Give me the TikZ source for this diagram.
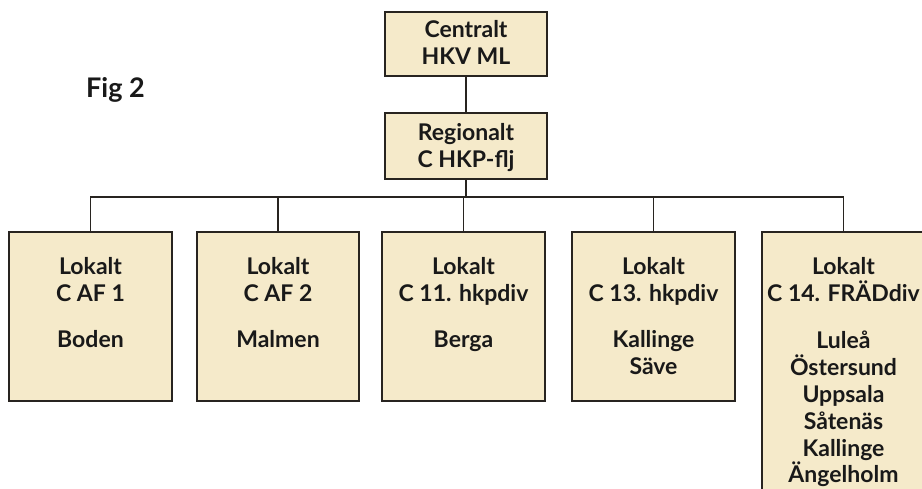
\documentclass[tikz,border=0pt]{standalone}
\usepackage{fontspec}
\setmainfont{Lato}
\definecolor{boxfill}{RGB}{245,234,202}
\definecolor{linec}{RGB}{40,36,32}
\tikzset{
  orgbox/.style={draw=linec, line width=1.3pt, fill=boxfill, rectangle, inner sep=0pt},
  txt/.style={align=center, inner sep=0pt, font=\bfseries\fontsize{23}{26.8}\selectfont, text=black!90},
  conn/.style={draw=linec, line width=1.1pt}
}
\begin{document}
\begin{tikzpicture}[x=1pt,y=-1pt]
\useasboundingbox (0,0) rectangle (922,489);
\fill[white] (0,0) rectangle (922,489);
% boxes
\node[orgbox, minimum width=162pt, minimum height=64pt] (c) at (466,44) {};
\node[orgbox, minimum width=162pt, minimum height=66pt] (r) at (466,146) {};
\node[orgbox, minimum width=163pt, minimum height=169pt] (b1) at (90.5,316.5) {};
\node[orgbox, minimum width=162pt, minimum height=169pt] (b2) at (278,316.5) {};
\node[orgbox, minimum width=163pt, minimum height=169pt] (b3) at (463.5,316.5) {};
\node[orgbox, minimum width=163pt, minimum height=169pt] (b4) at (653.5,316.5) {};
\node[orgbox, minimum width=163pt, minimum height=300pt] (b5) at (843.5,382) {};
% connectors
\coordinate (bus) at (466,197);
\draw[conn] (c.south) -- (r.north);
\draw[conn] (r.south) -- (bus);
\draw[conn] (b1.north) |- (bus);
\draw[conn] (b5.north) |- (bus);
\draw[conn] (b2.north) -- (b2.north |- bus);
\draw[conn] (b3.north) -- (b3.north |- bus);
\draw[conn] (b4.north) -- (b4.north |- bus);
% texts
\node[txt, anchor=north] (tc) at (466,20) {Centralt\\HKV ML};
\node[txt, anchor=north] (tr) at (466,123) {Regionalt\\C HKP-flj};
\node[txt, anchor=north] (t1) at (90.5,257) {Lokalt\\C AF 1\\[20pt]Boden};
\node[txt, anchor=north] (t2) at (278,257) {Lokalt\\C AF 2\\[20pt]Malmen};
\node[txt, anchor=north] (t3) at (463.5,257) {Lokalt\\C 11. hkpdiv\\[20pt]Berga};
\node[txt, anchor=north] (t4) at (653.5,257) {Lokalt\\C 13. hkpdiv\\[20pt]Kallinge\\Säve};
\node[txt, anchor=north] (t5) at (843.5,257) {Lokalt\\C 14. FRÄDdiv\\[21pt]Luleå\\Östersund\\Uppsala\\Såtenäs\\Kallinge\\Ängelholm};
\node[anchor=base west, inner sep=0pt, font=\bfseries\fontsize{27}{30}\selectfont, text=black!90] (fig) at (86,98) {Fig 2};
\end{tikzpicture}
\end{document}
